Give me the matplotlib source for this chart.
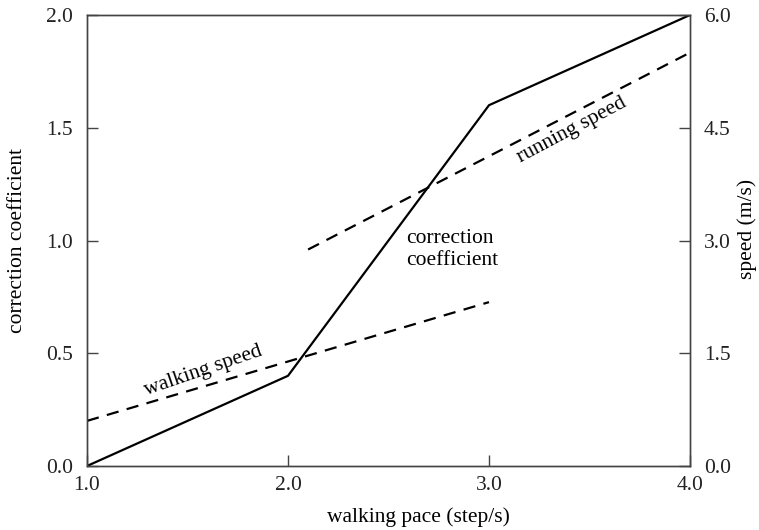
import matplotlib
matplotlib.use("Agg")
import matplotlib.pyplot as plt

plt.rcParams['font.family'] = ['Liberation Serif', 'DejaVu Serif']
plt.rcParams['font.size'] = 15.5

# correction coefficient (left axis)
pace_coef = [1.0, 2.0, 3.0, 4.0]
coef = [0.0, 0.4, 1.6, 2.0]

# speeds (right axis, m/s)
pace_walk = [1.0, 3.0]
walk_speed = [0.6, 2.18]
pace_run = [2.1, 4.0]
run_speed = [2.88, 5.5]

x_ticks = [1.0, 2.0, 3.0, 4.0]
left_ticks = [0.0, 0.5, 1.0, 1.5, 2.0]
right_ticks = [0.0, 1.5, 3.0, 4.5, 6.0]

spine_col = '#444444'
fs = 15.5

fig = plt.figure(figsize=(7.59, 5.30), dpi=100)
ax = fig.add_axes([87 / 759, 1 - 466 / 530, (690 - 87) / 759, (466 - 15) / 530])
ax2 = ax.twinx()

ax.plot(pace_coef, coef, color='black', lw=1.6, solid_joinstyle='round')
l1, = ax2.plot(pace_walk, walk_speed, color='black', lw=1.6)
l2, = ax2.plot(pace_run, run_speed, color='black', lw=1.6)
l1.set_dashes([5.5, 3.8])
l2.set_dashes([5.5, 3.8])

ax.set_xlim(1.0, 4.0)
ax.set_ylim(0.0, 2.0)
ax2.set_ylim(0.0, 6.0)

ax.set_xticks(x_ticks)
ax.set_xticklabels([f"{v:.1f}" for v in x_ticks])
ax.set_yticks(left_ticks)
ax.set_yticklabels([f"{v:.1f}" for v in left_ticks])
ax2.set_yticks(right_ticks)
ax2.set_yticklabels([f"{v:.1f}" for v in right_ticks])

for a in (ax, ax2):
    for s in a.spines.values():
        s.set_color(spine_col)
        s.set_linewidth(1.0)
    a.tick_params(direction='in', length=8, width=1.0, color=spine_col,
                  labelcolor='#222222', labelsize=fs)
ax.tick_params(axis='y', pad=10)
ax.tick_params(axis='x', pad=7)
ax2.tick_params(axis='y', pad=10)

ax.set_xlabel("walking pace (step/s)", fontsize=fs, va='center')
ax.xaxis.set_label_coords(0.55, -0.113)
ax.set_ylabel("correction coefficient", fontsize=fs, labelpad=14)
ax2.set_ylabel("speed (m/s)", fontsize=fs, va='center', ha='center')
ax2.yaxis.set_label_coords(1.094, 0.525)

ax.text(1.58, 0.42, "walking speed", rotation=19, ha='center', va='center', fontsize=fs)
ax.text(3.41, 1.49, "running speed", rotation=28, ha='center', va='center', fontsize=fs)
ax.text(2.59, 0.96, "correction\ncoefficient", ha='left', va='center',
        fontsize=fs, linespacing=1.2)

fig.savefig("out.png", dpi=100)
